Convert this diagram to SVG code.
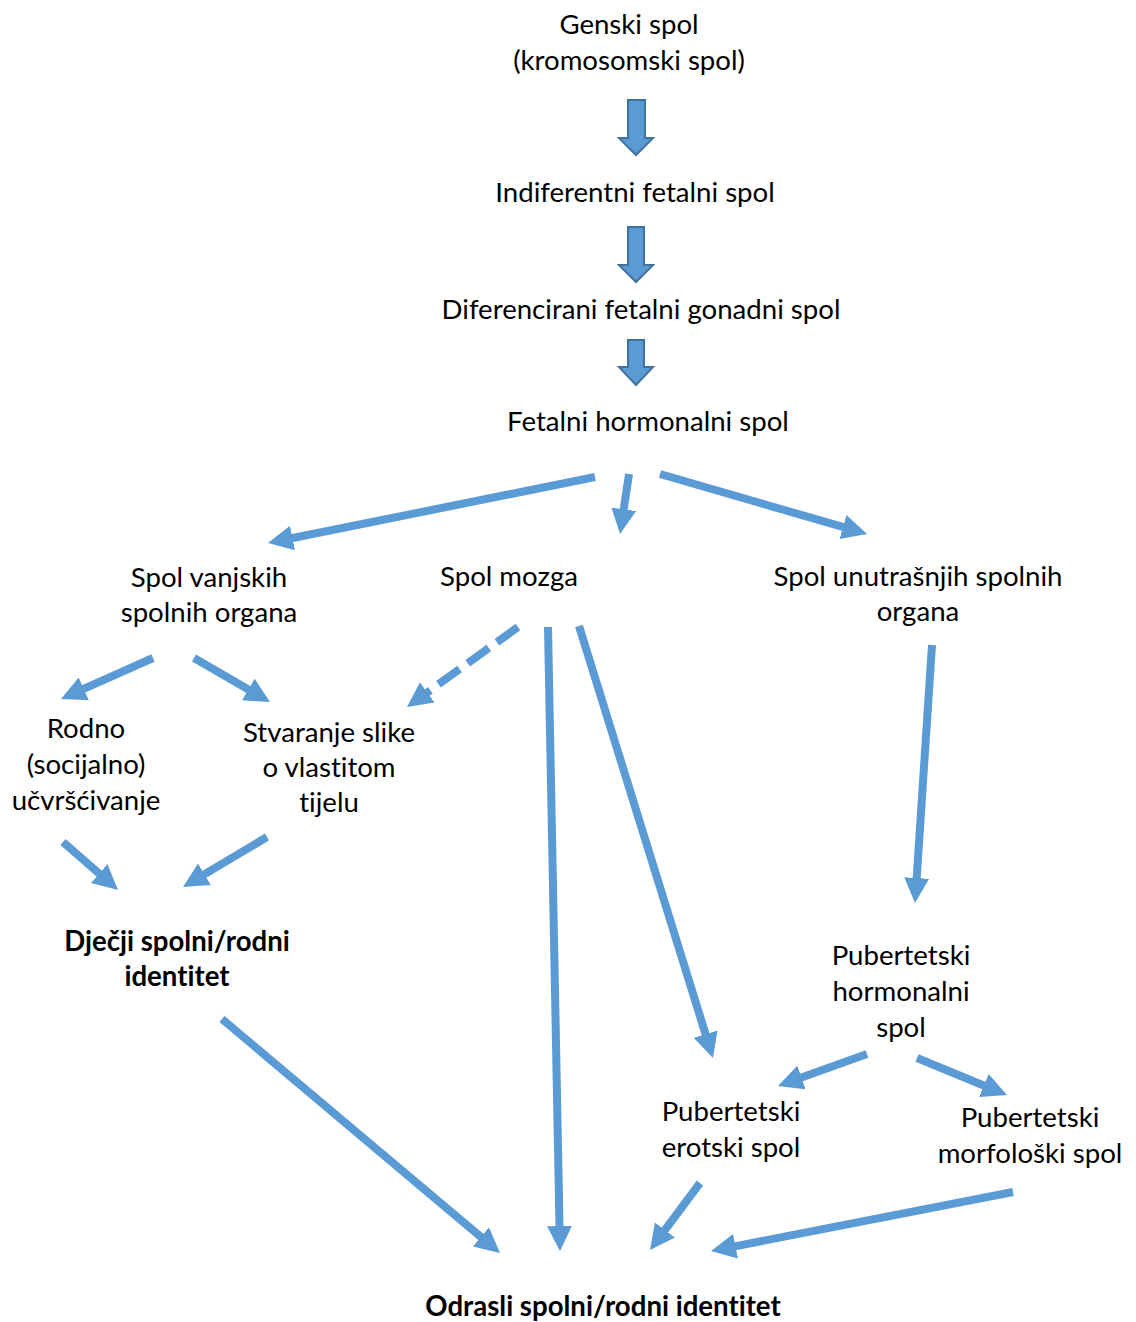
<svg xmlns="http://www.w3.org/2000/svg" width="1136" height="1322" viewBox="0 0 1136 1322">
<style>
text{font-family:Lato,"Noto Sans","Liberation Sans",sans-serif;font-size:27.6px;fill:#000;text-anchor:middle;font-variant-ligatures:none;font-feature-settings:"liga" 0}
.b{font-weight:bold}
.c line{stroke:#5B9BD5;stroke-width:8;marker-end:url(#ah)}
.d{stroke-dasharray:26 10}
.blk{fill:#5B9BD5;stroke:#41719C;stroke-width:2}
</style>
<defs>
<marker id="ah" markerUnits="userSpaceOnUse" markerWidth="26" markerHeight="26" refX="15" refY="12.5" orient="auto">
<path d="M0,0 L25,12.5 L0,25 z" fill="#5B9BD5"/>
</marker>
</defs>
<rect width="1136" height="1322" fill="#fff"/>
<g id="n-genski"><text x="629" y="34">Genski spol</text><text x="629" y="70">(kromosomski spol)</text></g>
<g id="n-indif"><text x="635" y="202">Indiferentni fetalni spol</text></g>
<g id="n-difer"><text x="641" y="319">Diferencirani fetalni gonadni spol</text></g>
<g id="n-fetalni"><text x="648" y="431">Fetalni hormonalni spol</text></g>
<g id="n-vanjskih"><text x="209" y="587">Spol vanjskih</text><text x="209" y="622">spolnih organa</text></g>
<g id="n-mozga"><text x="509" y="586">Spol mozga</text></g>
<g id="n-unutr"><text x="918" y="586">Spol unutrašnjih spolnih</text><text x="918" y="621">organa</text></g>
<g id="n-rodno"><text x="86" y="738">Rodno</text><text x="86" y="774">(socijalno)</text><text x="86" y="810">učvršćivanje</text></g>
<g id="n-stvar"><text x="329" y="742">Stvaranje slike</text><text x="329" y="777">o vlastitom</text><text x="329" y="812">tijelu</text></g>
<g id="n-djecji"><text class="b" x="177" y="951">Dječji spolni/rodni</text><text class="b" x="177" y="986">identitet</text></g>
<g id="n-pubhorm"><text x="901" y="965">Pubertetski</text><text x="901" y="1001">hormonalni</text><text x="901" y="1037">spol</text></g>
<g id="n-puberot"><text x="731" y="1121">Pubertetski</text><text x="731" y="1157">erotski spol</text></g>
<g id="n-pubmorf"><text x="1030" y="1127">Pubertetski</text><text x="1030" y="1163">morfološki spol</text></g>
<g id="n-odrasli"><text class="b" x="603" y="1316">Odrasli spolni/rodni identitet</text></g>
<g id="connectors">
<path class="blk" d="M628,100 H645 V138 H653 L636,155 L619,138 H628 Z"/>
<path class="blk" d="M628,227 H644 V265 H653 L636,282 L619,265 H628 Z"/>
<path class="blk" d="M628,340 H644 V367 H653 L636,385 L619,367 H628 Z"/>
<g class="c">
<line x1="595" y1="477" x2="277.8" y2="541"/>
<line x1="629" y1="474" x2="621.5" y2="524.1"/>
<line x1="660" y1="474" x2="857.4" y2="531.2"/>
<line x1="153" y1="658" x2="70.1" y2="694.9"/>
<line x1="194" y1="658" x2="261.3" y2="697"/>
<line class="d" x1="518" y1="627" x2="415.1" y2="701.2"/>
<line x1="548" y1="627" x2="559.8" y2="1241"/>
<line x1="579" y1="626" x2="710" y2="1048.5"/>
<line x1="932" y1="645" x2="915.7" y2="893"/>
<line x1="63" y1="842" x2="110.5" y2="883.4"/>
<line x1="267" y1="837" x2="191.6" y2="881.9"/>
<line x1="222" y1="1019" x2="492.4" y2="1246.6"/>
<line x1="867" y1="1054" x2="787.4" y2="1082.6"/>
<line x1="917" y1="1058" x2="997.7" y2="1091.2"/>
<line x1="700" y1="1183" x2="656" y2="1242"/>
<line x1="1013" y1="1192" x2="720.8" y2="1249.1"/>
</g>
</g>
</svg>
